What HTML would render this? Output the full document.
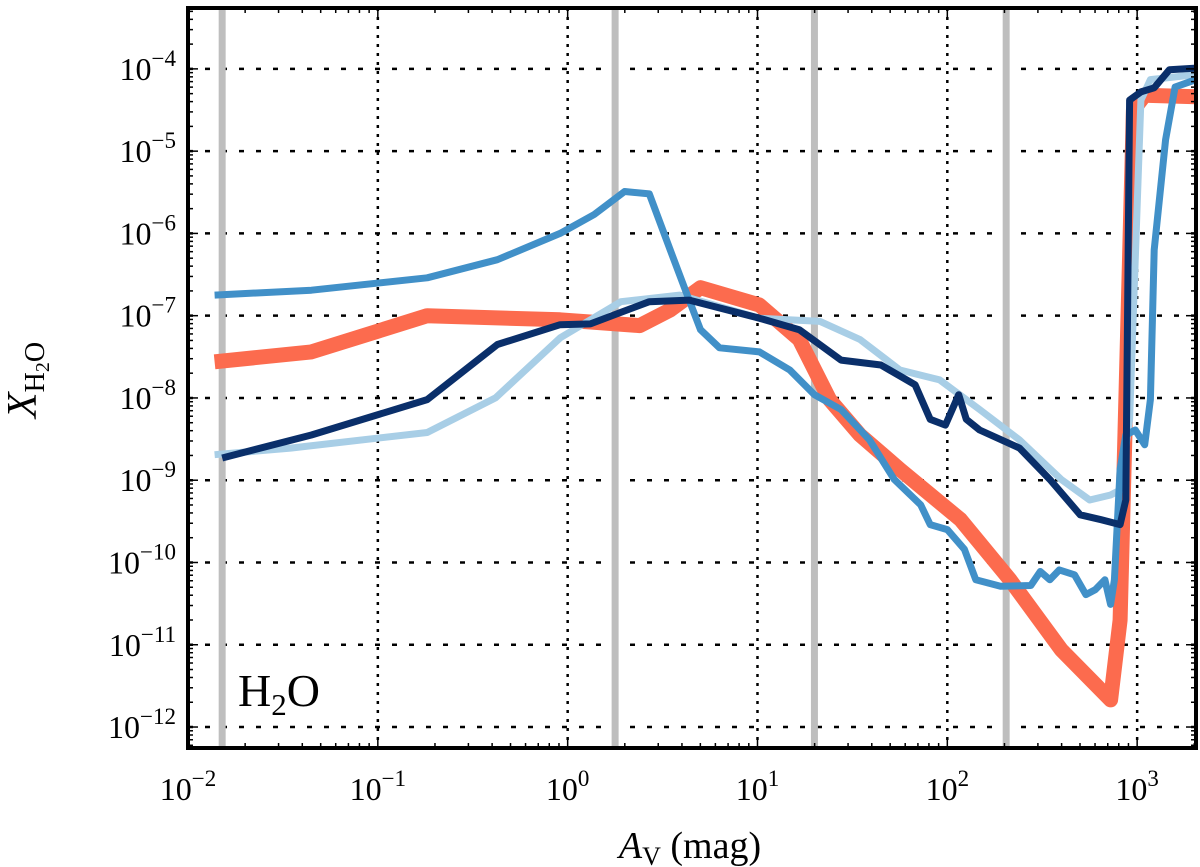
<!DOCTYPE html>
<html><head><meta charset="utf-8">
<style>
html,body{margin:0;padding:0;background:#fff;}
svg{display:block;font-family:"Liberation Serif",serif;}
</style></head>
<body>
<svg id="chart" width="1200" height="867" viewBox="0 0 1200 867" xmlns="http://www.w3.org/2000/svg"></svg>
<script>
// Data (log10 values)
const xTicks = [-2, -1, 0, 1, 2, 3];
const yTicks = [-4, -5, -6, -7, -8, -9, -10, -11, -12];
const markerAv = [-1.82, 0.25, 1.30, 2.31];

const orangeX = [-1.86,-1.35,-0.74,-0.04,0.38,0.54,0.70,1.01,1.22,1.38,1.54,1.75,2.07,2.33,2.60,2.86,2.91,2.98,3.04,3.31];
const orangeY = [-7.56,-7.44,-7.00,-7.05,-7.12,-6.93,-6.66,-6.87,-7.29,-8.02,-8.45,-8.87,-9.48,-10.21,-11.06,-11.67,-10.70,-4.50,-4.32,-4.34];

const lightX = [-1.86,-1.46,-0.74,-0.38,-0.04,0.28,0.59,1.01,1.33,1.54,1.75,1.96,2.17,2.38,2.60,2.75,2.86,2.91,2.96,3.02,3.07,3.31];
const lightY = [-8.69,-8.61,-8.42,-8.00,-7.27,-6.83,-6.75,-7.03,-7.07,-7.29,-7.66,-7.78,-8.14,-8.51,-8.99,-9.24,-9.18,-9.12,-8.26,-4.38,-4.13,-4.07];

const midX = [-1.86,-1.35,-0.74,-0.37,-0.04,0.14,0.30,0.43,0.54,0.62,0.70,0.80,1.01,1.17,1.30,1.44,1.59,1.72,1.86,1.91,2.00,2.09,2.15,2.28,2.44,2.49,2.54,2.59,2.67,2.73,2.78,2.83,2.86,2.88,2.91,2.94,2.99,3.04,3.07,3.09,3.15,3.20,3.31];
const midY = [-6.75,-6.69,-6.54,-6.32,-6.00,-5.77,-5.49,-5.52,-6.20,-6.69,-7.17,-7.39,-7.44,-7.66,-7.96,-8.14,-8.51,-8.99,-9.30,-9.54,-9.60,-9.84,-10.21,-10.29,-10.28,-10.11,-10.21,-10.09,-10.15,-10.39,-10.33,-10.21,-10.51,-10.21,-8.87,-8.45,-8.39,-8.57,-8.02,-6.20,-4.86,-4.22,-4.13];

const navyX = [-1.82,-1.35,-0.74,-0.37,-0.04,0.12,0.28,0.43,0.64,1.01,1.22,1.44,1.65,1.83,1.91,1.99,2.06,2.10,2.17,2.38,2.54,2.70,2.81,2.91,2.94,2.96,3.02,3.09,3.17,3.31];
const navyY = [-8.73,-8.45,-8.02,-7.35,-7.11,-7.10,-6.96,-6.83,-6.81,-7.03,-7.17,-7.54,-7.60,-7.84,-8.26,-8.33,-7.96,-8.26,-8.39,-8.61,-8.99,-9.42,-9.48,-9.54,-9.24,-4.38,-4.28,-4.23,-4.01,-3.99];

const L=188, R=1196, T=8, B=748;
const xMin=-2, xMax=3.31, yMax=-3.26, yMin=-12.255;
const sx = v => L + (v - xMin) / (xMax - xMin) * (R - L);
const sy = v => T + (yMax - v) / (yMax - yMin) * (B - T);
const NS = "http://www.w3.org/2000/svg";
const svg = document.getElementById('chart');
function mk(tag, attrs, parent){ const e=document.createElementNS(NS,tag); for(const k in attrs) e.setAttribute(k,attrs[k]); (parent||svg).appendChild(e); return e; }

const clipDefs = mk('defs',{});
const cp = mk('clipPath',{id:'plotclip'},clipDefs);
mk('rect',{x:L,y:T,width:R-L,height:B-T},cp);

// grid
const grid = mk('g',{});


xTicks.forEach(v=>{ if(v>xMin){ const l=mk('line',{x1:sx(v),x2:sx(v),y1:T,y2:B,stroke:'#000','stroke-width':2.5,'stroke-dasharray':'3,6'},grid);
   }});
yTicks.forEach(v=>{ const l=mk('line',{x1:L,x2:R,y1:sy(v),y2:sy(v),stroke:'#000','stroke-width':2.5,'stroke-dasharray':'5,12'},grid);
   });

// markers
const mg = mk('g',{'clip-path':'url(#plotclip)'});
markerAv.forEach(v=>{ const l=mk('line',{x1:sx(v),x2:sx(v),y1:T,y2:B,stroke:'#bebebe','stroke-width':7},mg);
   });

// series
function series(xs, ys, color, w, name){
  const d = xs.map((x,i)=>(i?'L':'M')+sx(x).toFixed(1)+','+sy(ys[i]).toFixed(1)).join(' ');
  const p = mk('path',{d, fill:'none', stroke:color, 'stroke-width':w, 'stroke-linejoin':'round','stroke-linecap':'butt','clip-path':'url(#plotclip)'});
  
  
}
series(orangeX, orangeY, '#fc6b4e', 15, 'series-orange');
series(lightX, lightY, '#a8cee6', 7, 'series-light-blue');
series(midX, midY, '#4190c8', 7, 'series-mid-blue');
series(navyX, navyY, '#0a2f6a', 7, 'series-navy');

// ticks
const tg = mk('g',{stroke:'#000','stroke-width':1.5});
for(let d=-2; d<=3; d++){ for(let m=1;m<10;m++){ const v=d+Math.log10(m); if(v<=xMin||v>=xMax) continue; const len=m==1?10:5;
  mk('line',{x1:sx(v),x2:sx(v),y1:B,y2:B-len},tg); mk('line',{x1:sx(v),x2:sx(v),y1:T,y2:T+len},tg);} }
for(let d=-13; d<=-4; d++){ for(let m=1;m<10;m++){ const v=d+Math.log10(m); if(v<=yMin||v>=yMax) continue; const len=m==1?10:5;
  mk('line',{x1:L,x2:L+len,y1:sy(v),y2:sy(v)},tg); mk('line',{x1:R,x2:R-len,y1:sy(v),y2:sy(v)},tg);} }

// frame
const fr = mk('rect',{x:L,y:T,width:R-L,height:B-T,fill:'none',stroke:'#000','stroke-width':4});
 

// tick labels
xTicks.forEach(v=>{
  const t=mk('text',{x:sx(v),y:800,'font-size':32,'text-anchor':'middle'});
   
  t.appendChild(document.createTextNode('10'));
  const s=mk('tspan',{dy:-14,'font-size':23},t); s.textContent = v<0 ? '\u2212'+(-v) : String(v);
});
yTicks.forEach(v=>{
  const t=mk('text',{x:176,y:sy(v)+11,'font-size':32,'text-anchor':'end'});
   
  t.appendChild(document.createTextNode('10'));
  const s=mk('tspan',{dy:-14,'font-size':23},t); s.textContent = '\u2212'+(-v);
});

// axis titles
const xt=mk('text',{x:690,y:858,'font-size':38,'text-anchor':'middle'});
 
const a=mk('tspan',{'font-style':'italic'},xt); a.textContent='A';
const vs=mk('tspan',{'font-size':26,dy:7},xt); vs.textContent='V';
const mg2=mk('tspan',{dy:-7},xt); mg2.textContent='  (mag)';

const yt=mk('text',{x:0,y:0,'font-size':42,'text-anchor':'middle',transform:'translate(36,380) rotate(-90)'});
 
const xx=mk('tspan',{'font-style':'italic'},yt); xx.textContent='X';
const sub=mk('tspan',{'font-size':28,dy:8},yt); sub.textContent='H';
const sub2=mk('tspan',{'font-size':20,dy:5},yt); sub2.textContent='2';
const sub3=mk('tspan',{'font-size':28,dy:-5},yt); sub3.textContent='O';

// panel label
const pl=mk('text',{x:238,y:706,'font-size':46});
 
pl.appendChild(document.createTextNode('H'));
const p2=mk('tspan',{'font-size':31,dy:9},pl); p2.textContent='2';
const p3=mk('tspan',{dy:-9},pl); p3.textContent='O';
</script>
</body></html>
